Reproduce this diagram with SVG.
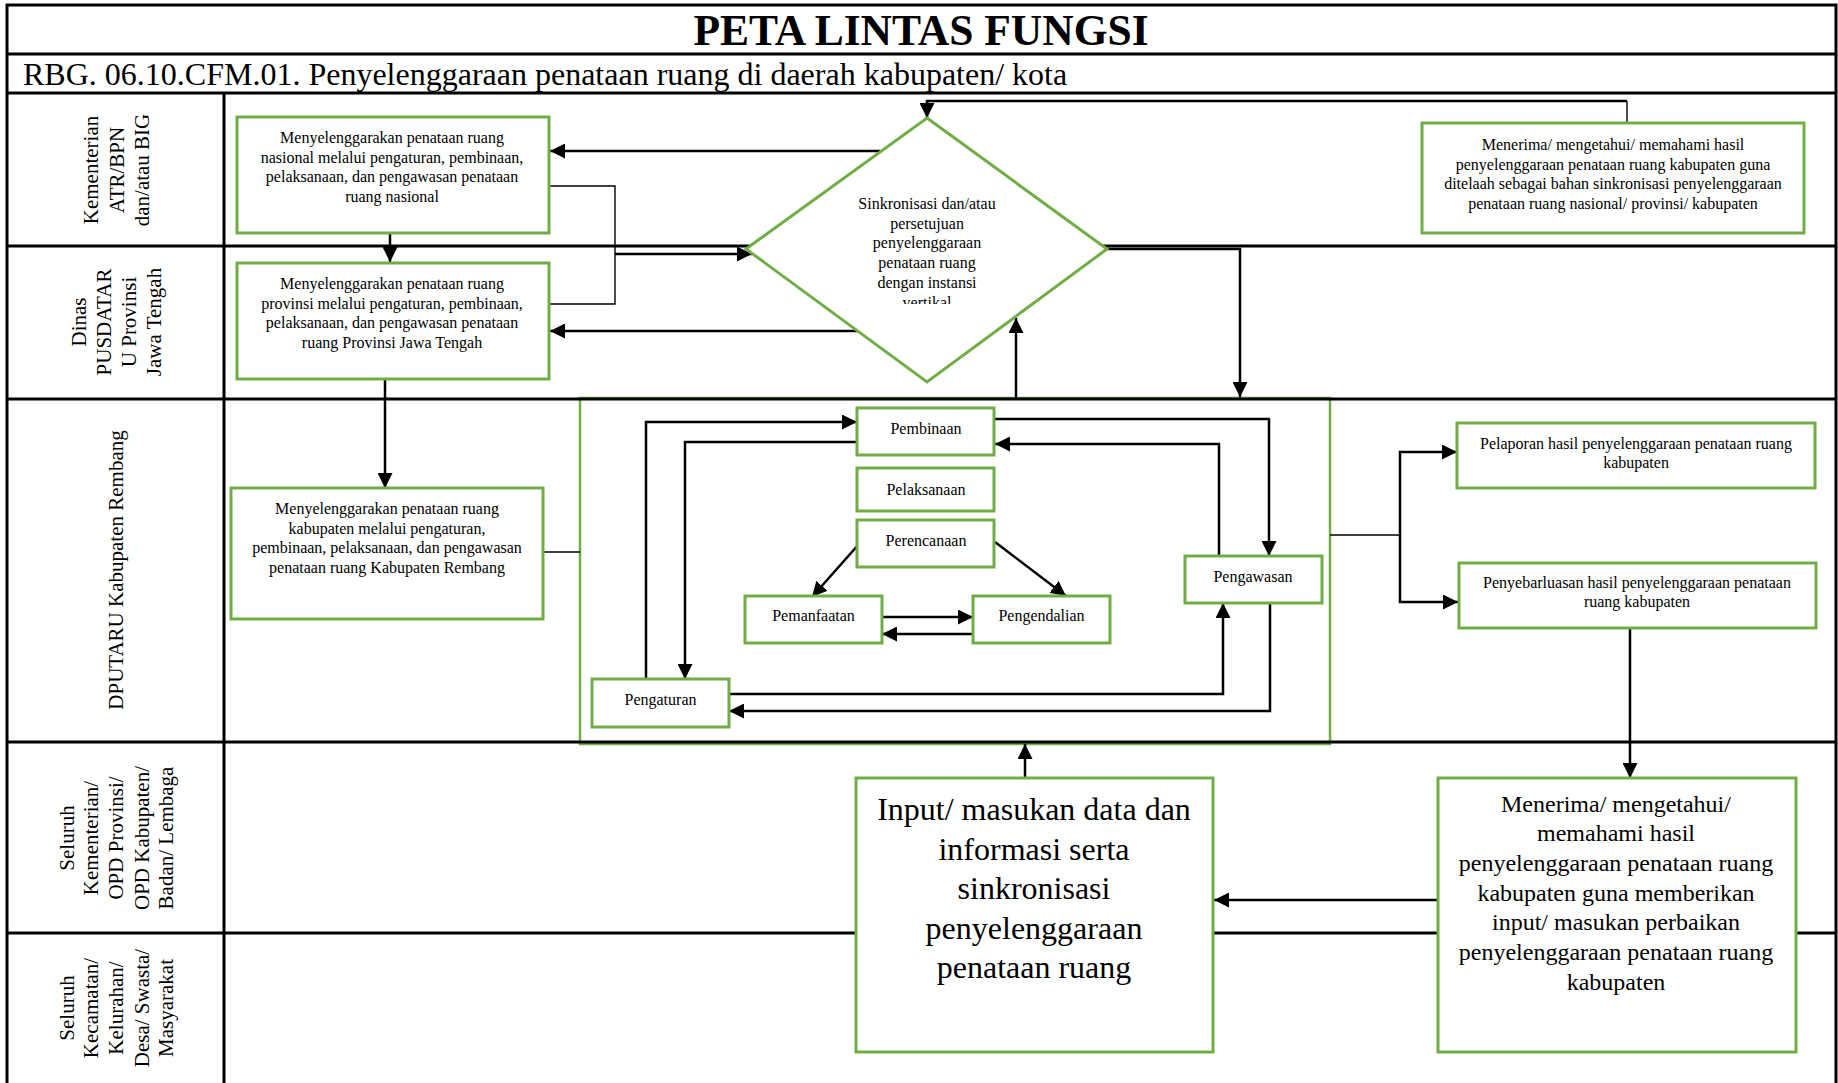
<svg xmlns="http://www.w3.org/2000/svg" width="1838" height="1083" viewBox="0 0 1838 1083">
<style>
.box{fill:#fff;stroke:#70AD47;stroke-width:3}
.cont{fill:none;stroke:#70AD47;stroke-width:2.5}
.grid{fill:none;stroke:#000;stroke-width:3}
.arr{fill:none;stroke:#000;stroke-width:2.5;marker-end:url(#ah)}
.ln{fill:none;stroke:#000;stroke-width:2.5}
.thin{fill:none;stroke:#000;stroke-width:1.4}
text{font-family:"Liberation Serif","Times New Roman",serif;fill:#000}
.t16{font-size:16px;text-anchor:middle}
.t24{font-size:24px;text-anchor:middle}
.t32{font-size:32px;text-anchor:middle}
.lab{font-size:21px;text-anchor:middle}
</style>
<defs>
<marker id="ah" markerUnits="userSpaceOnUse" markerWidth="15" markerHeight="15" refX="15" refY="7.5" orient="auto">
<path d="M0,0 L15,7.5 L0,15 z" fill="#000"/>
</marker>
<clipPath id="dclip"><rect x="800" y="180" width="260" height="124"/></clipPath>
</defs>
<rect width="1838" height="1083" fill="#fff"/>

<g id="container">
<rect class="cont" x="580" y="398" width="750" height="346"/>
</g>

<g id="grid">
<rect class="grid" x="7" y="5" width="1829" height="1090"/>
<line class="grid" x1="7" y1="54" x2="1836" y2="54"/>
<line class="grid" x1="7" y1="93" x2="1836" y2="93"/>
<line class="grid" x1="224" y1="93" x2="224" y2="1083"/>
<line class="grid" x1="7" y1="246" x2="1836" y2="246"/>
<line class="grid" x1="7" y1="399" x2="1836" y2="399"/>
<line class="grid" x1="7" y1="742" x2="1836" y2="742"/>
<line class="grid" x1="7" y1="933" x2="1836" y2="933"/>
<text x="921" y="45" font-size="43.5" font-weight="bold" text-anchor="middle">PETA LINTAS FUNGSI</text>
<text x="23" y="85" font-size="32">RBG. 06.10.CFM.01. Penyelenggaraan penataan ruang di daerah kabupaten/ kota</text>
</g>

<g id="lane-labels">
<text class="lab" transform="rotate(-90)"><tspan x="-170" y="98">Kementerian</tspan><tspan x="-170" y="124">ATR/BPN</tspan><tspan x="-170" y="149">dan/atau BIG</tspan></text>
<text class="lab" transform="rotate(-90)"><tspan x="-322" y="85.5">Dinas</tspan><tspan x="-322" y="111">PUSDATAR</tspan><tspan x="-322" y="136">U Provinsi</tspan><tspan x="-322" y="160.5">Jawa Tengah</tspan></text>
<text class="lab" transform="rotate(-90)"><tspan x="-570" y="123">DPUTARU Kabupaten Rembang</tspan></text>
<text class="lab" transform="rotate(-90)"><tspan x="-838" y="74">Seluruh</tspan><tspan x="-838" y="98">Kementerian/</tspan><tspan x="-838" y="123">OPD Provinsi/</tspan><tspan x="-838" y="149">OPD Kabupaten/</tspan><tspan x="-838" y="173">Badan/ Lembaga</tspan></text>
<text class="lab" transform="rotate(-90)"><tspan x="-1008" y="74">Seluruh</tspan><tspan x="-1008" y="98">Kecamatan/</tspan><tspan x="-1008" y="123">Kelurahan/</tspan><tspan x="-1008" y="149">Desa/ Swasta/</tspan><tspan x="-1008" y="173">Masyarakat</tspan></text>
</g>

<g id="connectors">
<path class="arr" d="M880,151 H550"/>
<path class="arr" d="M858,331 H550"/>
<path class="thin" d="M549,186 H615 V304 H549"/>
<path class="arr" d="M615,254 H752"/>
<path class="thin" d="M1627,123 V101"/>
<path class="arr" d="M1627,101 H927 V118"/>
<path class="arr" d="M1107,249 H1240 V397"/>
<path class="arr" d="M1016,398 V318"/>
<path class="arr" d="M390,233 V262"/>
<path class="arr" d="M385,379 V488"/>
<path class="thin" d="M543,552 H580"/>
<path class="thin" d="M1330,535 H1400"/>
<path class="arr" d="M1400,535 V452 H1457"/>
<path class="arr" d="M1400,535 V602 H1458"/>
<path class="arr" d="M1630,628 V778"/>
<path class="arr" d="M1437,900 H1214"/>
<path class="arr" d="M1025,778 V744"/>
<path class="arr" d="M646,679 V422 H857"/>
<path class="arr" d="M857,442 H685 V679"/>
<path class="arr" d="M994,419 H1269 V556"/>
<path class="arr" d="M1219,556 V444 H995"/>
<path class="arr" d="M859,544 L812,597"/>
<path class="arr" d="M995,542 L1066,596"/>
<path class="arr" d="M882,617 H973"/>
<path class="arr" d="M973,634 H882"/>
<path class="arr" d="M729,694 H1223 V603"/>
<path class="arr" d="M1270,603 V711 H729"/>
</g>

<g id="node-nasional">
<rect class="box" x="237" y="117" width="312" height="116"/>
<text class="t16"><tspan x="392" y="143">Menyelenggarakan penataan ruang</tspan><tspan x="392" y="162.7">nasional melalui pengaturan, pembinaan,</tspan><tspan x="392" y="182.4">pelaksanaan, dan pengawasan penataan</tspan><tspan x="392" y="202.1">ruang nasional</tspan></text>
</g>
<g id="node-provinsi">
<rect class="box" x="237" y="263" width="312" height="116"/>
<text class="t16"><tspan x="392" y="289">Menyelenggarakan penataan ruang</tspan><tspan x="392" y="308.7">provinsi melalui pengaturan, pembinaan,</tspan><tspan x="392" y="328.4">pelaksanaan, dan pengawasan penataan</tspan><tspan x="392" y="348.1">ruang Provinsi Jawa Tengah</tspan></text>
</g>
<g id="node-kabupaten">
<rect class="box" x="231" y="488" width="312" height="131"/>
<text class="t16"><tspan x="387" y="514">Menyelenggarakan penataan ruang</tspan><tspan x="387" y="533.7">kabupaten melalui pengaturan,</tspan><tspan x="387" y="553.4">pembinaan, pelaksanaan, dan pengawasan</tspan><tspan x="387" y="573.1">penataan ruang Kabupaten Rembang</tspan></text>
</g>
<g id="node-sinkronisasi">
<polygon class="box" points="927,118 1107,249 927,382 746,249"/>
<text class="t16" clip-path="url(#dclip)"><tspan x="927" y="209">Sinkronisasi dan/atau</tspan><tspan x="927" y="228.7">persetujuan</tspan><tspan x="927" y="248.4">penyelenggaraan</tspan><tspan x="927" y="268.1">penataan ruang</tspan><tspan x="927" y="287.8">dengan instansi</tspan><tspan x="927" y="307.5">vertikal</tspan></text>
</g>
<g id="node-menerima-pusat">
<rect class="box" x="1422" y="123" width="382" height="110"/>
<text class="t16"><tspan x="1613" y="150">Menerima/ mengetahui/ memahami hasil</tspan><tspan x="1613" y="169.7">penyelenggaraan penataan ruang kabupaten guna</tspan><tspan x="1613" y="189.4">ditelaah sebagai bahan sinkronisasi penyelenggaraan</tspan><tspan x="1613" y="209.1">penataan ruang nasional/ provinsi/ kabupaten</tspan></text>
</g>
<g id="node-pembinaan">
<rect class="box" x="857" y="408" width="137" height="47"/>
<text class="t16" x="926" y="434">Pembinaan</text>
</g>
<g id="node-pelaksanaan">
<rect class="box" x="857" y="468" width="137" height="43"/>
<text class="t16" x="926" y="494.5">Pelaksanaan</text>
</g>
<g id="node-perencanaan">
<rect class="box" x="857" y="520" width="137" height="47"/>
<text class="t16" x="926" y="545.5">Perencanaan</text>
</g>
<g id="node-pemanfaatan">
<rect class="box" x="745" y="596" width="137" height="47"/>
<text class="t16" x="813.5" y="620.5">Pemanfaatan</text>
</g>
<g id="node-pengendalian">
<rect class="box" x="973" y="596" width="137" height="47"/>
<text class="t16" x="1041.5" y="620.5">Pengendalian</text>
</g>
<g id="node-pengawasan">
<rect class="box" x="1185" y="556" width="137" height="47"/>
<text class="t16" x="1253" y="582">Pengawasan</text>
</g>
<g id="node-pengaturan">
<rect class="box" x="592" y="679" width="137" height="48"/>
<text class="t16" x="660.5" y="705">Pengaturan</text>
</g>
<g id="node-pelaporan">
<rect class="box" x="1457" y="423" width="358" height="65"/>
<text class="t16"><tspan x="1636" y="449">Pelaporan hasil penyelenggaraan penataan ruang</tspan><tspan x="1636" y="468">kabupaten</tspan></text>
</g>
<g id="node-penyebarluasan">
<rect class="box" x="1459" y="563" width="357" height="65"/>
<text class="t16"><tspan x="1637" y="588">Penyebarluasan hasil penyelenggaraan penataan</tspan><tspan x="1637" y="607">ruang kabupaten</tspan></text>
</g>
<g id="node-input">
<rect class="box" x="856" y="778" width="357" height="274"/>
<text class="t32"><tspan x="1034" y="820">Input/ masukan data dan</tspan><tspan x="1034" y="859.5">informasi serta</tspan><tspan x="1034" y="899">sinkronisasi</tspan><tspan x="1034" y="938.5">penyelenggaraan</tspan><tspan x="1034" y="978">penataan ruang</tspan></text>
</g>
<g id="node-menerima-masukan">
<rect class="box" x="1438" y="778" width="358" height="274"/>
<text class="t24"><tspan x="1616" y="811.5">Menerima/ mengetahui/</tspan><tspan x="1616" y="841.2">memahami hasil</tspan><tspan x="1616" y="870.9">penyelenggaraan penataan ruang</tspan><tspan x="1616" y="900.6">kabupaten guna memberikan</tspan><tspan x="1616" y="930.3">input/ masukan perbaikan</tspan><tspan x="1616" y="960">penyelenggaraan penataan ruang</tspan><tspan x="1616" y="989.7">kabupaten</tspan></text>
</g>
</svg>
